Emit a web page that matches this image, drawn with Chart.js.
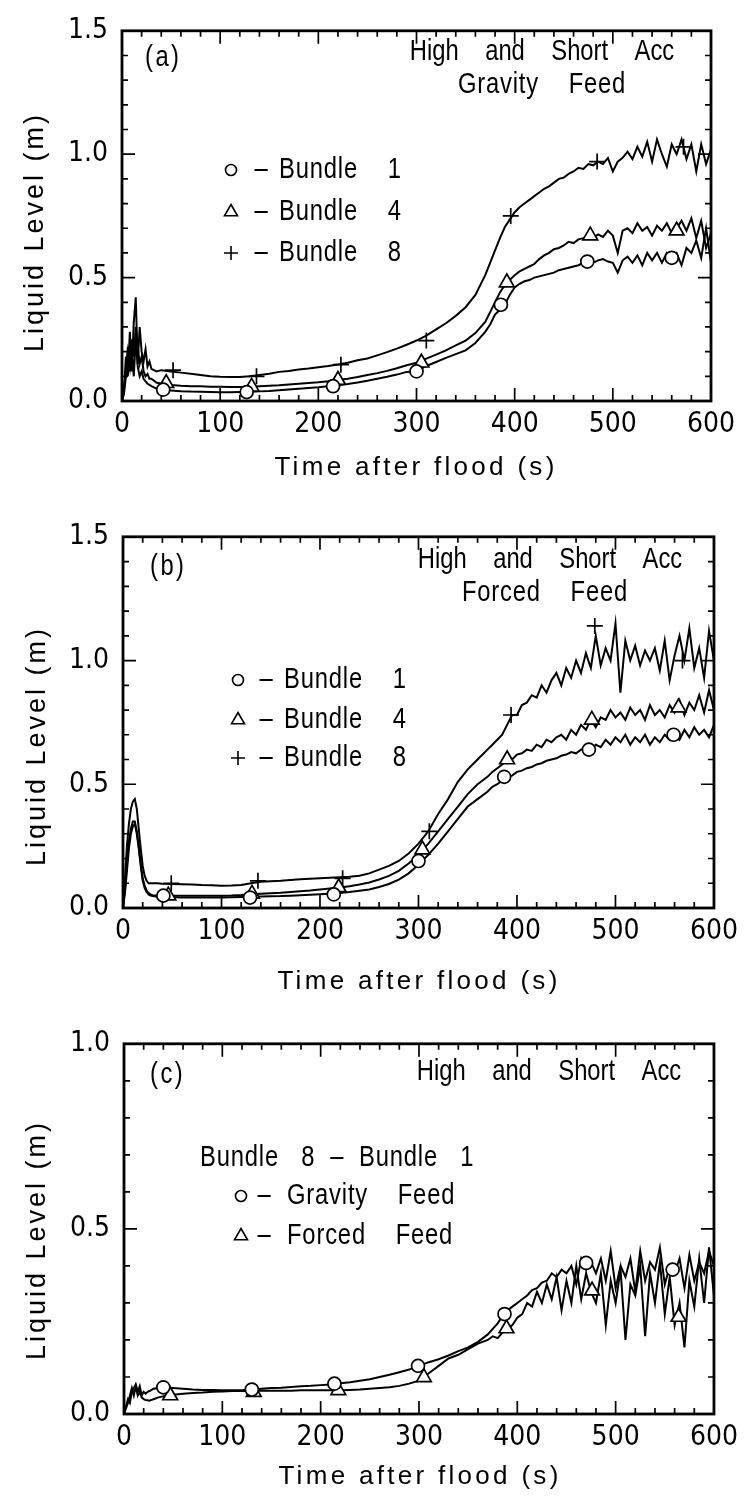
<!DOCTYPE html>
<html>
<head>
<meta charset="utf-8">
<script src="https://cdn.jsdelivr.net/npm/chart.js@4"></script>
<style>
  body { margin: 0; background: #fff; width: 745px; height: 1499px; position: relative; overflow: hidden; }
  canvas { position: absolute; left: 0; }
</style>
</head>
<body>
<canvas id="chartA" width="745" height="500" style="top:0px"></canvas>
<canvas id="chartB" width="745" height="500" style="top:506px"></canvas>
<canvas id="chartC" width="745" height="486" style="top:1013px"></canvas>
<script>
// time after flood (s), shared by every curve
const time = [0, 2, 4, 6, 8, 10, 12, 14, 16, 18, 20, 22, 24, 26, 28, 30,
    35, 40,
    50, 60, 70, 80, 90, 100, 110, 120, 130, 140, 150, 160, 170, 180, 190,
    200, 210, 220, 230, 240, 250, 260, 270, 280, 290, 300, 310, 320, 330, 340, 350, 360, 370,
    375, 380, 385, 390, 395, 400, 405, 410, 415, 420, 425, 430, 435, 440, 445, 450, 455, 460, 465, 470,
    475, 480, 485, 490, 495, 500, 505, 510, 515, 520, 525, 530, 535, 540, 545, 550, 555, 560, 565, 570,
    575, 580, 585, 590, 595, 600];

// (a) gravity feed, liquid level (m)
const gravB1 = [0, .03, .1, .22, .12, .2, .1, .25, .14, .1, .12, .09, .08, .07, .065, .06,
    .05, .046,
    .043, .04, .038, .037, .036, .035, .035, .036, .037, .039, .041, .044, .047, .05, .053,
    .056, .06, .064, .069, .075, .082, .09, .098, .107, .118, .12, .142, .158, .175, .19, .205, .235, .28,
    .31, .35, .37, .39, .43, .46, .475, .485, .49, .5, .505, .51, .515, .52, .53, .535, .54, .545, .55, .56,
    .565, .56, .57, .575, .565, .56, .52, .57, .585, .56, .59, .55, .6, .57, .6, .56, .6, .58, .6, .55,
    .62, .6, .65, .58, .7, .56];
const gravB4 = [0, .05, .12, .2, .14, .25, .18, .3, .22, .15, .18, .12, .1, .11, .09, .09,
    .075, .07,
    .065, .062, .06, .06, .058, .058, .057, .057, .058, .06, .062, .064, .067, .07, .073,
    .076, .08, .085, .09, .097, .105, .113, .122, .133, .145, .155, .172, .188, .205, .225, .245, .275, .32,
    .36, .4, .44, .47, .49, .51, .525, .535, .545, .555, .575, .59, .6, .615, .62, .63, .645, .64, .655, .66,
    .67, .66, .675, .665, .69, .67, .6, .69, .7, .68, .72, .69, .705, .67, .71, .69, .72, .68, .7, .73,
    .69, .74, .66, .73, .62, .68];
const gravB8 = [0, .04, .18, .1, .28, .12, .32, .42, .15, .3, .2, .16, .21, .14, .16, .13,
    .12, .125,
    .12, .115, .11, .105, .1, .098, .097, .097, .1, .105, .11, .118, .122, .128, .132,
    .137, .142, .148, .155, .165, .172, .185, .198, .212, .228, .245, .265, .29, .315, .345, .38, .43, .51,
    .56, .61, .66, .705, .735, .765, .785, .8, .815, .83, .845, .86, .87, .885, .9, .905, .92, .93, .945, .94,
    .96, .955, .97, .96, .985, .93, .97, .985, 1.01, .98, 1.03, .99, 1.05, .97, 1.06, 1.0, .95, 1.04, 1.0, 1.06,
    .98, 1.04, .93, 1.04, .96, 1.02];

// (b) forced feed, liquid level (m)
const forcB1 = [0, .06, .15, .24, .3, .33, .34, .3, .24, .17, .11, .08, .065, .055, .05, .048,
    .045, .044,
    .043, .042, .042, .042, .042, .042, .043, .044, .045, .046, .047, .048, .05, .052, .054,
    .056, .058, .061, .065, .07, .075, .085, .097, .115, .14, .175, .215, .26, .31, .36, .41, .44, .47,
    .49, .5, .515, .53, .535, .55, .555, .565, .57, .58, .585, .595, .6, .605, .615, .62, .63, .625, .64, .645,
    .64, .66, .65, .68, .66, .69, .67, .7, .66, .69, .67, .7, .66, .69, .67, .7, .68, .7, .68, .72,
    .69, .73, .7, .72, .69, .74];
const forcB4 = [0, .08, .18, .27, .32, .35, .35, .31, .25, .18, .12, .09, .07, .06, .055, .052,
    .05, .05,
    .05, .05, .05, .05, .05, .05, .051, .053, .056, .058, .06, .062, .065, .068, .071,
    .075, .079, .083, .088, .095, .103, .115, .13, .15, .18, .215, .26, .31, .36, .41, .46, .5, .53,
    .55, .565, .58, .6, .6, .62, .625, .64, .635, .66, .65, .68, .67, .69, .7, .68, .72, .7, .74, .72,
    .76, .73, .77, .76, .8, .77, .79, .76, .81, .78, .8, .76, .82, .78, .8, .77, .82, .79, .84, .78,
    .83, .8, .86, .79, .88, .8];
const forcB8 = [0, .12, .25, .34, .4, .43, .44, .4, .32, .24, .17, .13, .11, .1, .1, .1,
    .1, .098,
    .097, .096, .095, .093, .092, .09, .091, .093, .1, .106, .108, .11, .113, .116, .118,
    .12, .122, .124, .126, .13, .14, .155, .17, .19, .22, .26, .31, .38, .44, .51, .56, .6, .64,
    .66, .68, .7, .74, .78, .78, .82, .83, .86, .85, .9, .87, .92, .95, .9, .97, .93, 1.0, .95, 1.03,
    .97, 1.1, .98, 1.05, 1.0, 1.15, .87, 1.08, 1.0, 1.06, .98, 1.04, 1.0, 1.05, .96, 1.08, .92, 1.02, 1.1, 1.0,
    1.13, .97, 1.05, .93, 1.12, 1.0];

// (c) bundle 8 minus bundle 1 (m)
const diffGrav = [0, .02, .04, .03, .06, .07, .08, .06, .075, .05, .06, .055, .06, .062, .065, .068,
    .07, .072,
    .07, .068, .066, .065, .065, .064, .064, .064, .066, .068, .07, .071, .073, .075, .076,
    .078, .08, .083, .086, .09, .094, .1, .106, .113, .12, .13, .14, .148, .158, .17, .18, .195, .215,
    .23, .245, .265, .28, .29, .3, .31, .32, .335, .34, .355, .36, .38, .37, .39, .38, .4, .35, .42, .39,
    .41, .38, .42, .36, .44, .34, .4, .37, .42, .33, .44, .36, .41, .39, .45, .35, .4, .38, .42, .34,
    .43, .36, .41, .38, .44, .4];
const diffForc = [0, .015, .03, .05, .07, .05, .075, .05, .06, .045, .04, .038, .037, .036, .038, .04,
    .045, .048,
    .052, .055, .057, .058, .06, .061, .062, .062, .063, .063, .063, .063, .063, .064, .064,
    .064, .064, .064, .065, .066, .068, .07, .072, .076, .082, .09, .11, .13, .15, .16, .175, .19, .2,
    .21, .205, .22, .23, .24, .26, .27, .3, .29, .33, .3, .35, .31, .37, .28, .36, .3, .4, .31, .38,
    .33, .3, .38, .24, .36, .3, .39, .2, .35, .32, .4, .21, .38, .3, .41, .27, .37, .24, .3, .18,
    .36, .29, .42, .3, .45, .32];

// symbol positions on the curves
const markGravB1 = { t: [42, 127, 215, 300, 386, 474, 560], v: [.046, .036, .06, .12, .39, .565, .58] };
const markGravB4 = { t: [45, 132, 220, 305, 392, 477, 565], v: [.072, .057, .085, .155, .48, .67, .69] };
const markGravB8 = { t: [52, 137, 223, 310, 396, 484, 572], v: [.125, .1, .147, .245, .75, .97, 1.03] };
const markForcB1 = { t: [41, 129, 214, 300, 387, 473, 559], v: [.05, .042, .055, .19, .53, .64, .7] };
const markForcB4 = { t: [46, 131, 219, 304, 390, 476, 564], v: [.05, .057, .083, .236, .6, .76, .81] };
const markForcB8 = { t: [49, 137, 223, 311, 394, 479, 568], v: [.1, .11, .12, .31, .78, 1.14, 1.0] };
const markDiffGrav = { t: [40, 130, 214, 299, 387, 470, 558], v: [.072, .066, .082, .13, .27, .408, .39] };
const markDiffForc = { t: [47, 132, 218, 305, 389, 476, 564], v: [.05, .059, .064, .099, .231, .333, .262] };

const NARROW = '"Liberation Sans Narrow", "Arial Narrow", "DejaVu Sans Condensed", sans-serif';
const FONT = '"Liberation Sans", Arial, sans-serif';
const SIZES = { circle: 6.5, triangle: 8.5, cross: 8 };

function pts(xs, ys) {
    return xs.map((x, i) => ({ x: x, y: ys[i] }));
}

function curve(vals) {
    return {
        data: pts(time, vals),
        showLine: true,
        borderColor: '#000',
        borderWidth: 2,
        pointRadius: 0,
        fill: false
    };
}

function marks(m, style) {
    return {
        data: pts(m.t, m.v),
        showLine: false,
        pointStyle: style,
        pointRadius: SIZES[style],
        pointBorderWidth: 1.7,
        pointBorderColor: '#000',
        pointBackgroundColor: '#fff'
    };
}

// box and inward ticks on all four sides
const framePlugin = {
    id: 'frame',
    afterDatasetsDraw(chart) {
        const { ctx, chartArea: a, scales } = chart;
        const x = scales.x, y = scales.y;
        ctx.save();
        ctx.strokeStyle = '#000';
        ctx.lineWidth = 1.7;
        ctx.beginPath();
        for (let t = 0; t <= 600; t += 20) {
            const px = x.getPixelForValue(t);
            const len = t % 100 === 0 ? 13 : 6;
            ctx.moveTo(px, a.bottom); ctx.lineTo(px, a.bottom - len);
            ctx.moveTo(px, a.top); ctx.lineTo(px, a.top + len);
        }
        const n = Math.round(y.max * 10);
        for (let i = 0; i <= n; i++) {
            const py = y.getPixelForValue(i / 10);
            const len = i % 5 === 0 ? 13 : 6;
            ctx.moveTo(a.left, py); ctx.lineTo(a.left + len, py);
            ctx.moveTo(a.right, py); ctx.lineTo(a.right - len, py);
        }
        ctx.stroke();
        ctx.lineWidth = 2.8;
        ctx.strokeRect(a.left, a.top, a.right - a.left, a.bottom - a.top);
        ctx.restore();
    }
};

// panel labels, key and axis titles; sx squeezes the glyphs like the plotter font
const textPlugin = {
    id: 'panelText',
    afterDraw(chart, args, opts) {
        const ctx = chart.ctx;
        ctx.save();
        ctx.fillStyle = '#000';
        ctx.textBaseline = 'middle';
        (opts.items || []).forEach(it => {
            ctx.save();
            ctx.font = (it.size || 29) + 'px ' + FONT;
            ctx.letterSpacing = (it.spacing || 0) + 'px';
            ctx.textAlign = it.align || 'left';
            ctx.translate(it.x, it.y);
            if (it.rotate) ctx.rotate(it.rotate);
            ctx.scale(it.sx || 0.82, 1);
            ctx.fillText(it.text, 0, 0);
            ctx.restore();
        });
        (opts.keys || []).forEach(k => {
            ctx.save();
            ctx.strokeStyle = '#000';
            ctx.fillStyle = '#fff';
            ctx.lineWidth = 1.6;
            Chart.helpers.drawPoint(ctx, { pointStyle: k.style, radius: SIZES[k.style] - 1, rotation: 0, borderWidth: 1.6 }, k.x, k.y);
            ctx.restore();
        });
        ctx.restore();
    }
};

function makeChart(id, cfg) {
    const font = { family: NARROW, size: 28 };
    new Chart(document.getElementById(id), {
        type: 'scatter',
        data: { datasets: cfg.datasets },
        options: {
            responsive: false,
            animation: false,
            devicePixelRatio: 1,
            layout: { padding: { top: cfg.top, right: cfg.right, left: 0, bottom: 0 } },
            plugins: {
                legend: { display: false },
                tooltip: { enabled: false },
                panelText: { items: cfg.items, keys: cfg.keys }
            },
            scales: {
                x: {
                    type: 'linear', min: 0, max: 600,
                    ticks: { stepSize: 100, color: '#000', font: font, padding: 7, maxRotation: 0, autoSkip: false },
                    grid: { display: false, drawTicks: false },
                    border: { display: false },
                    afterFit: s => { s.height = cfg.xHeight; }
                },
                y: {
                    min: 0, max: cfg.yMax,
                    ticks: { stepSize: 0.5, color: '#000', font: font, padding: 14, callback: v => v.toFixed(1) },
                    grid: { display: false, drawTicks: false },
                    border: { display: false },
                    afterFit: s => { s.width = cfg.left; }
                }
            }
        },
        plugins: [framePlugin, textPlugin]
    });
}

const HEAD = 'High    and    Short    Acc';

makeChart('chartA', {
    top: 20, right: 34, left: 122, xHeight: 99, yMax: 1.5,
    datasets: [
        marks(markGravB1, 'circle'), marks(markGravB4, 'triangle'), marks(markGravB8, 'cross'),
        curve(gravB1), curve(gravB4), curve(gravB8)
    ],
    items: [
        { text: '(a)', x: 145, y: 58, spacing: 3 },
        { text: HEAD, x: 542, y: 52, align: 'center' },
        { text: 'Gravity    Feed', x: 542, y: 85, align: 'center', spacing: 1 },
        { text: '\u2013', x: 261, y: 170, align: 'center' },
        { text: '\u2013', x: 261, y: 212, align: 'center' },
        { text: '\u2013', x: 261, y: 253, align: 'center' },
        { text: 'Bundle    1', x: 279, y: 170, spacing: 1 },
        { text: 'Bundle    4', x: 279, y: 212, spacing: 1 },
        { text: 'Bundle    8', x: 279, y: 253, spacing: 1 },
        { text: 'Time after flood (s)', x: 416, y: 468, align: 'center', spacing: 3.3, size: 26, sx: 1 },
        { text: 'Liquid Level (m)', x: 36, y: 232, align: 'center', spacing: 3, size: 27, sx: 1, rotate: -Math.PI / 2 }
    ],
    keys: [
        { style: 'circle', x: 231, y: 170 },
        { style: 'triangle', x: 231, y: 212 },
        { style: 'cross', x: 231, y: 253 }
    ]
});

makeChart('chartB', {
    top: 24, right: 30, left: 123, xHeight: 98, yMax: 1.5,
    datasets: [
        marks(markForcB1, 'circle'), marks(markForcB4, 'triangle'), marks(markForcB8, 'cross'),
        curve(forcB1), curve(forcB4), curve(forcB8)
    ],
    items: [
        { text: '(b)', x: 150, y: 61, spacing: 3 },
        { text: HEAD, x: 550, y: 54, align: 'center' },
        { text: 'Forced    Feed', x: 545, y: 87, align: 'center', spacing: 1 },
        { text: '\u2013', x: 266, y: 174, align: 'center' },
        { text: '\u2013', x: 266, y: 214, align: 'center' },
        { text: '\u2013', x: 266, y: 252, align: 'center' },
        { text: 'Bundle    1', x: 284, y: 174, spacing: 1 },
        { text: 'Bundle    4', x: 284, y: 214, spacing: 1 },
        { text: 'Bundle    8', x: 284, y: 252, spacing: 1 },
        { text: 'Time after flood (s)', x: 419, y: 476, align: 'center', spacing: 3.3, size: 26, sx: 1 },
        { text: 'Liquid Level (m)', x: 38, y: 240, align: 'center', spacing: 3, size: 27, sx: 1, rotate: -Math.PI / 2 }
    ],
    keys: [
        { style: 'circle', x: 238, y: 174 },
        { style: 'triangle', x: 238, y: 214 },
        { style: 'cross', x: 238, y: 252 }
    ]
});

makeChart('chartC', {
    top: 24, right: 30, left: 124, xHeight: 85, yMax: 1.0,
    datasets: [
        marks(markDiffGrav, 'circle'), marks(markDiffForc, 'triangle'),
        curve(diffGrav), curve(diffForc)
    ],
    items: [
        { text: '(c)', x: 150, y: 62, spacing: 3 },
        { text: HEAD, x: 549, y: 59, align: 'center' },
        { text: 'Bundle   8  \u2013  Bundle   1', x: 200, y: 145, spacing: 1 },
        { text: '\u2013', x: 264, y: 183, align: 'center' },
        { text: '\u2013', x: 264, y: 223, align: 'center' },
        { text: 'Gravity    Feed', x: 287, y: 183, spacing: 1 },
        { text: 'Forced    Feed', x: 287, y: 223, spacing: 1 },
        { text: 'Time after flood (s)', x: 420, y: 464, align: 'center', spacing: 3.3, size: 26, sx: 1 },
        { text: 'Liquid Level (m)', x: 38, y: 227, align: 'center', spacing: 3, size: 27, sx: 1, rotate: -Math.PI / 2 }
    ],
    keys: [
        { style: 'circle', x: 241, y: 183 },
        { style: 'triangle', x: 241, y: 223 }
    ]
});
</script>
</body>
</html>
